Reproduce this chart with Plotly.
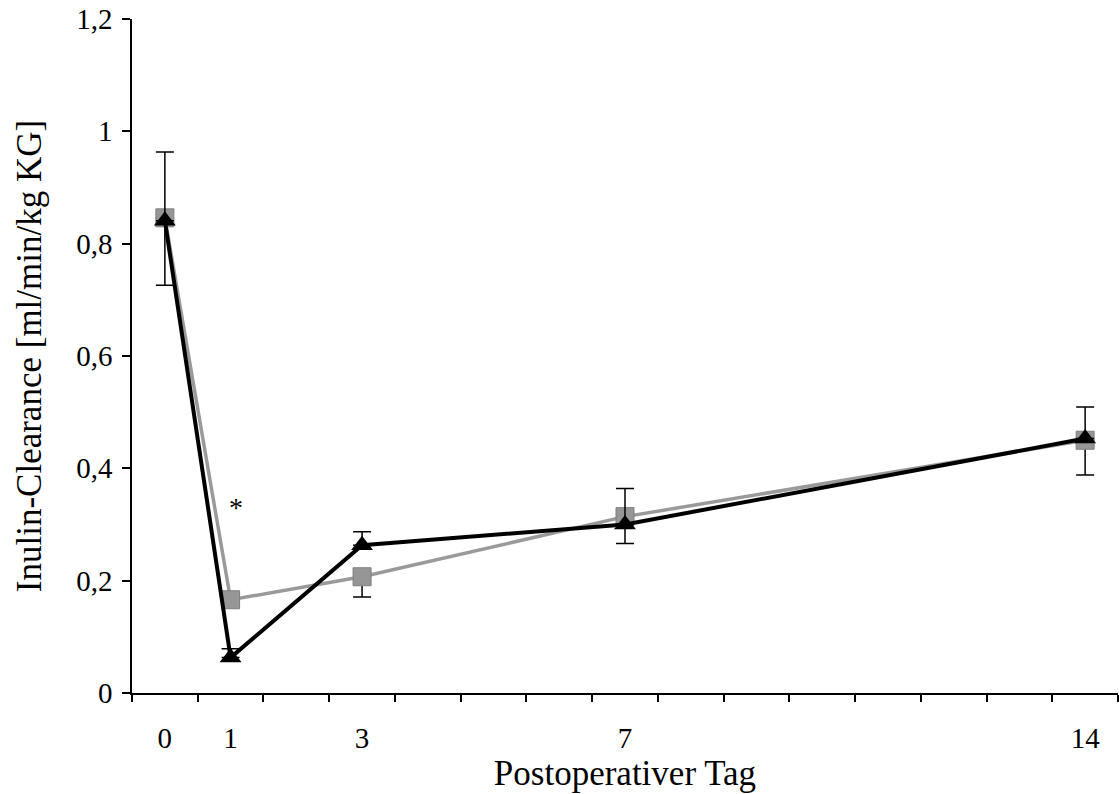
import plotly.graph_objects as go

days = [0, 1, 3, 7, 14]
tick_labels = ["0", "1", "3", "7", "14"]

# grey squares series
grey_vals = [0.846, 0.166, 0.207, 0.314, 0.450]
grey_err_minus = [0.120, 0.010, 0.036, 0.048, 0.062]

# black triangles series
black_vals = [0.841, 0.063, 0.263, 0.300, 0.453]
black_err_plus = [0.122, 0.016, 0.024, 0.064, 0.056]

minor_ticks = [d - 0.5 for d in range(0, 16)]
y_ticks = [0, 0.2, 0.4, 0.6, 0.8, 1.0, 1.2]

FONT = "Liberation Serif"

fig = go.Figure()

fig.add_trace(go.Scatter(
    x=days, y=grey_vals, mode="lines+markers",
    line=dict(color="#9a9a9a", width=3.5),
    marker=dict(symbol="square", size=18, color="#969696",
                line=dict(color="#7f7f7f", width=1)),
    error_y=dict(type="data", symmetric=False,
                 array=[0] * len(days), arrayminus=grey_err_minus,
                 color="black", thickness=1.5, width=9),
    cliponaxis=False, showlegend=False,
))

fig.add_trace(go.Scatter(
    x=days, y=black_vals, mode="lines+markers",
    line=dict(color="black", width=4),
    marker=dict(symbol="triangle-up", size=19, color="black"),
    error_y=dict(type="data", symmetric=False,
                 array=black_err_plus, arrayminus=[0] * len(days),
                 color="black", thickness=1.5, width=9),
    cliponaxis=False, showlegend=False,
))

fig.add_annotation(x=1.08, y=0.33, text="*", showarrow=False,
                   font=dict(family=FONT, size=28, color="#000000"))

fig.update_layout(
    width=1119, height=794,
    margin=dict(l=132, r=1, t=19, b=101),
    paper_bgcolor="white", plot_bgcolor="white",
    separators=", ",
    font=dict(family=FONT, color="black"),
    xaxis=dict(
        range=[-0.5, 14.5],
        tickmode="array", tickvals=days, ticktext=tick_labels,
        ticks="", ticklabelstandoff=18,
        tickfont=dict(family=FONT, size=29, color="black"),
        showline=True, linecolor="black", linewidth=1.5,
        showgrid=False, zeroline=False,
        minor=dict(tickmode="array", tickvals=minor_ticks,
                   ticks="outside", ticklen=7, tickcolor="black",
                   tickwidth=1.5, showgrid=False),
        title=dict(text="Postoperativer Tag",
                   font=dict(family=FONT, size=35, color="black"),
                   standoff=2),
    ),
    yaxis=dict(
        range=[0, 1.2],
        tickmode="array", tickvals=y_ticks,
        ticks="outside", ticklen=8, tickcolor="black", tickwidth=1.5,
        tickfont=dict(family=FONT, size=29, color="black"),
        ticklabelstandoff=4,
        showline=True, linecolor="black", linewidth=1.5,
        showgrid=False, zeroline=False,
        title=dict(text="Inulin-Clearance [ml/min/kg KG]",
                   font=dict(family=FONT, size=35, color="black"),
                   standoff=24),
    ),
)

fig.write_html("out.html")
